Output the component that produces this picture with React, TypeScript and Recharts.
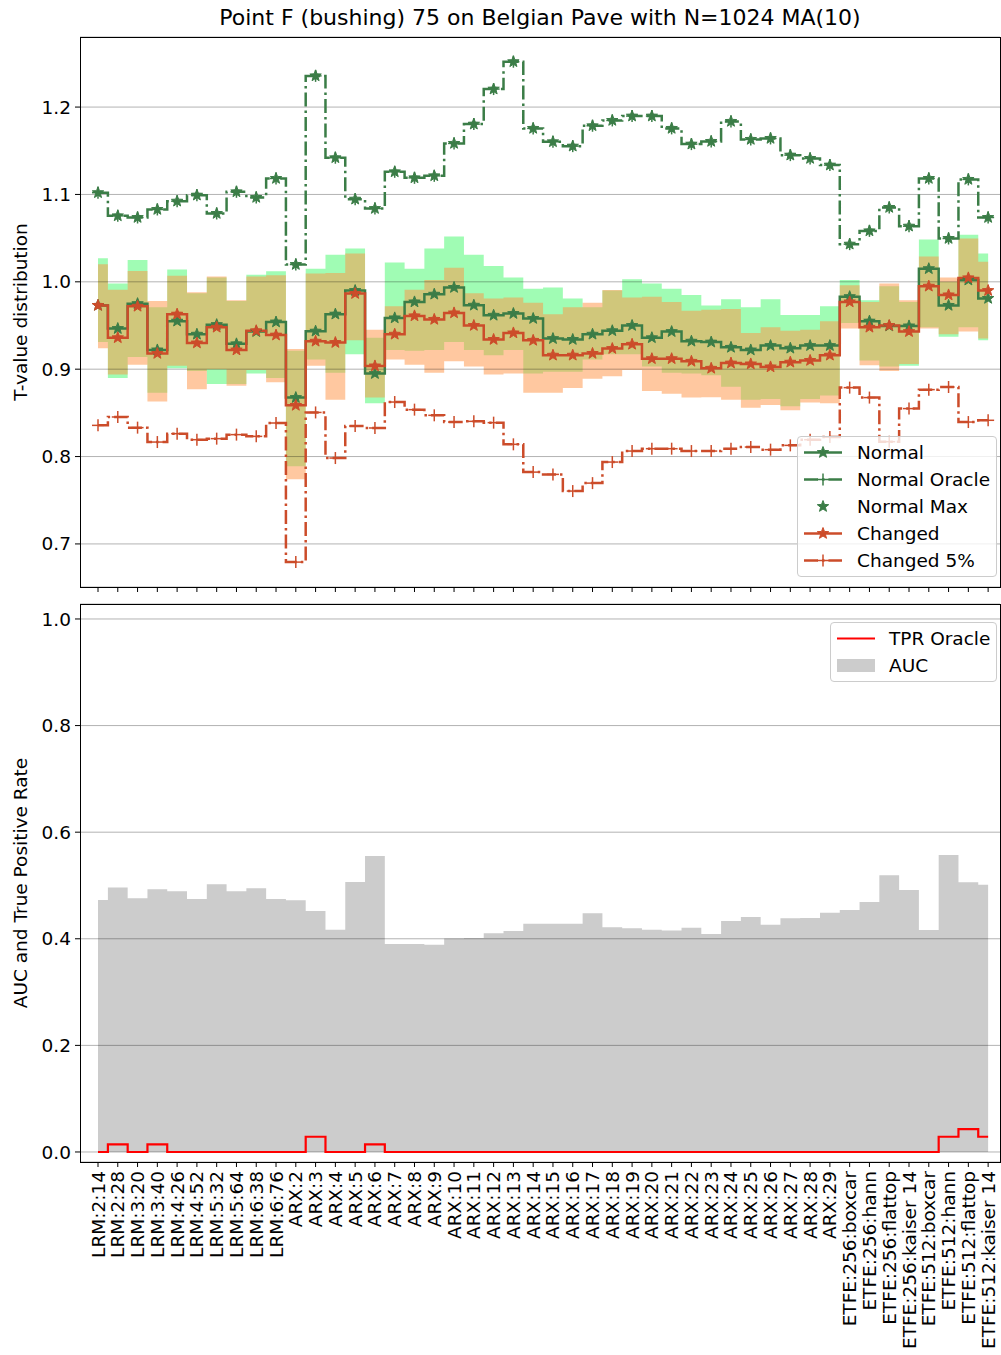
import React from 'react';
import { ComposedChart, Line, Area, XAxis, YAxis, CartesianGrid } from 'recharts';

const categories = [
  'LRM:2:14', 'LRM:2:28', 'LRM:3:20', 'LRM:3:40', 'LRM:4:26', 'LRM:4:52', 'LRM:5:32', 'LRM:5:64', 'LRM:6:38', 'LRM:6:76',
  'ARX:2', 'ARX:3', 'ARX:4', 'ARX:5', 'ARX:6', 'ARX:7', 'ARX:8', 'ARX:9', 'ARX:10', 'ARX:11',
  'ARX:12', 'ARX:13', 'ARX:14', 'ARX:15', 'ARX:16', 'ARX:17', 'ARX:18', 'ARX:19', 'ARX:20', 'ARX:21',
  'ARX:22', 'ARX:23', 'ARX:24', 'ARX:25', 'ARX:26', 'ARX:27', 'ARX:28', 'ARX:29',
  'ETFE:256:boxcar', 'ETFE:256:hann', 'ETFE:256:flattop', 'ETFE:256:kaiser 14',
  'ETFE:512:boxcar', 'ETFE:512:hann', 'ETFE:512:flattop', 'ETFE:512:kaiser 14',
];

const normal = [
  0.973, 0.9465, 0.975, 0.922, 0.955, 0.94, 0.951, 0.929, 0.943, 0.954,
  0.8675, 0.9435, 0.963, 0.99, 0.895, 0.9587, 0.977, 0.9858, 0.9935, 0.9732,
  0.9617, 0.9637, 0.958, 0.935, 0.934, 0.94, 0.944, 0.95, 0.936, 0.943,
  0.932, 0.931, 0.925, 0.922, 0.927, 0.924, 0.927, 0.927, 0.983, 0.955,
  0.9495, 0.9495, 1.015, 0.973, 1.002, 0.981,
];
const normalOracle = [
  1.102, 1.0755, 1.0736, 1.0828, 1.0923, 1.0992, 1.0782, 1.103, 1.0966, 1.1183,
  1.0198, 1.2357, 1.142, 1.0946, 1.0839, 1.1259, 1.119, 1.1213, 1.1584, 1.1805,
  1.2206, 1.2519, 1.1756, 1.1603, 1.1553, 1.1786, 1.1847, 1.1897, 1.1897, 1.1756,
  1.1576, 1.1607, 1.1836, 1.163, 1.1641, 1.145, 1.1412, 1.1336, 1.0431, 1.0583,
  1.0851, 1.0637, 1.1183, 1.0496, 1.1172, 1.0736,
];
// the max stars sit exactly on the oracle points
const normalMax = normalOracle;
const changed = [
  0.973, 0.936, 0.972, 0.918, 0.963, 0.93, 0.948, 0.922, 0.944, 0.939,
  0.8586, 0.932, 0.9305, 0.9866, 0.9037, 0.94, 0.961, 0.957, 0.9644, 0.95,
  0.934, 0.9415, 0.933, 0.916, 0.916, 0.918, 0.9236, 0.9285, 0.912, 0.912,
  0.909, 0.901, 0.907, 0.906, 0.9026, 0.908, 0.91, 0.916, 0.977, 0.948,
  0.95, 0.943, 0.995, 0.985, 1.0045, 0.99,
];
const changed5 = [
  0.8357, 0.8453, 0.8331, 0.8166, 0.8262, 0.8193, 0.8205, 0.8251, 0.8231, 0.8384,
  0.6792, 0.8505, 0.7983, 0.8349, 0.8327, 0.8624, 0.8537, 0.8472, 0.8395, 0.8403,
  0.8388, 0.814, 0.7822, 0.7796, 0.7605, 0.7696, 0.7937, 0.8063, 0.809, 0.809,
  0.8063, 0.8063, 0.809, 0.8109, 0.8079, 0.8128, 0.8193, 0.8223, 0.8789, 0.8675,
  0.817, 0.8549, 0.8766, 0.8796, 0.8395, 0.8415,
];
const normalLow = [
  0.931, 0.89, 0.914, 0.873, 0.901, 0.898, 0.883, 0.883, 0.895, 0.89,
  0.789, 0.911, 0.896, 0.917, 0.861, 0.922, 0.921, 0.922, 0.931, 0.922,
  0.916, 0.922, 0.895, 0.897, 0.897, 0.911, 0.917, 0.917, 0.903, 0.896,
  0.895, 0.893, 0.88, 0.865, 0.866, 0.8575, 0.866, 0.87, 0.953, 0.91,
  0.903, 0.904, 0.948, 0.937, 0.948, 0.933,
];
const normalHigh = [
  1.027, 0.998, 1.025, 0.971, 1.014, 0.987, 1.005, 0.978, 1.008, 1.012,
  0.921, 1.015, 1.031, 1.038, 0.936, 1.022, 1.015, 1.038, 1.052, 1.031,
  1.018, 1.005, 0.992, 0.9935, 0.981, 0.971, 0.99, 1.003, 0.998, 0.992,
  0.985, 0.973, 0.98, 0.971, 0.98, 0.962, 0.962, 0.972, 1.002, 0.979,
  0.995, 0.977, 1.0485, 1.0, 1.054, 1.0325,
];
const changedLow = [
  0.924, 0.894, 0.905, 0.863, 0.904, 0.877, 0.9, 0.881, 0.899, 0.885,
  0.774, 0.904, 0.865, 0.933, 0.8675, 0.911, 0.905, 0.896, 0.909, 0.903,
  0.894, 0.895, 0.873, 0.873, 0.8785, 0.889, 0.892, 0.899, 0.875, 0.872,
  0.8675, 0.868, 0.865, 0.856, 0.859, 0.853, 0.862, 0.861, 0.9465, 0.9045,
  0.898, 0.906, 0.9465, 0.94, 0.943, 0.935,
];
const changedHigh = [
  1.02, 0.991, 1.0125, 0.978, 1.007, 0.988, 1.006, 0.979, 1.006, 1.0075,
  0.923, 1.0095, 1.01, 1.0325, 0.945, 0.972, 0.991, 1.002, 1.016, 0.987,
  0.981, 0.982, 0.976, 0.963, 0.971, 0.976, 0.9905, 0.982, 0.983, 0.977,
  0.967, 0.968, 0.969, 0.9415, 0.948, 0.944, 0.945, 0.955, 0.996, 0.977,
  0.998, 0.979, 1.029, 1.005, 1.0496, 1.023,
];
const auc = [
  0.4728, 0.496, 0.476, 0.4929, 0.489, 0.4747, 0.5022, 0.489, 0.4947, 0.4747,
  0.4722, 0.4522, 0.4171, 0.5066, 0.5553, 0.3902, 0.3902, 0.389, 0.4003, 0.4015,
  0.4103, 0.4146, 0.4284, 0.4283, 0.4283, 0.4478, 0.4215, 0.4196, 0.4171, 0.4153,
  0.4209, 0.409, 0.4334, 0.4409, 0.4265, 0.4384, 0.439, 0.449, 0.454, 0.469,
  0.5191, 0.4916, 0.4165, 0.5572, 0.506, 0.5016,
];
const tprOracle = [
  0, 0.0143, 0, 0.0143, 0, 0, 0, 0, 0, 0,
  0, 0.0286, 0, 0, 0.0143, 0, 0, 0, 0, 0,
  0, 0, 0, 0, 0, 0, 0, 0, 0, 0,
  0, 0, 0, 0, 0, 0, 0, 0, 0, 0,
  0, 0, 0, 0.0286, 0.0429, 0.0286,
];

const topTicks = [0.7, 0.8, 0.9, 1.0, 1.1, 1.2];
const bottomTicks = [0.0, 0.2, 0.4, 0.6, 0.8, 1.0];

const GREEN = '#3b7d47';
const RED = '#cc4c2a';
const FONT = 'DejaVu Sans';
const DASHDOT = '14 4 2.5 4';
const LW = 2.5;

const xTicks = categories.map((_, i) => i);
const xDomain = [-0.91, 45.6];

const topData = categories.map((name, i) => ({
  x: i,
  name,
  normal: normal[i],
  normalOracle: normalOracle[i],
  normalMax: normalMax[i],
  changed: changed[i],
  changed5: changed5[i],
  normalBand: [normalLow[i], normalHigh[i]],
  changedBand: [changedLow[i], changedHigh[i]],
}));

const bottomData = categories.map((name, i) => ({ x: i, name, auc: auc[i], tpr: tprOracle[i] }));

function starPoints(cx: number, cy: number, r = 6, ir = 2.5) {
  const pts: string[] = [];
  for (let k = 0; k < 10; k++) {
    const rad = k % 2 === 0 ? r : ir;
    const a = -Math.PI / 2 + (k * Math.PI) / 5;
    pts.push(`${cx + rad * Math.cos(a)},${cy + rad * Math.sin(a)}`);
  }
  return pts.join(' ');
}

const starDot = (color: string) => (p: any) => (
  <polygon key={`s${p.index}`} points={starPoints(p.cx, p.cy)} fill={color} stroke={color} strokeWidth={1} />
);

const plusDot = (color: string) => (p: any) => (
  <g key={`p${p.index}`} stroke={color} strokeWidth={1.5}>
    <line x1={p.cx - 6} y1={p.cy} x2={p.cx + 6} y2={p.cy} />
    <line x1={p.cx} y1={p.cy - 6} x2={p.cx} y2={p.cy + 6} />
  </g>
);

const RotTick = (props: any) => {
  const { x, y, payload } = props;
  return (
    <text
      transform={`translate(${x},${y}) rotate(-90)`}
      textAnchor="end"
      dominantBaseline="central"
      fontSize={18.5}
      fontFamily={FONT}
      fill="#000"
    >
      {categories[payload.value]}
    </text>
  );
};

type LegendRow = { label: string; color: string; line?: boolean; dash?: string; marker?: 'star' | 'plus'; patch?: boolean };

const topLegend: LegendRow[] = [
  { label: 'Normal', color: GREEN, line: true, marker: 'star' },
  { label: 'Normal Oracle', color: GREEN, line: true, dash: DASHDOT, marker: 'plus' },
  { label: 'Normal Max', color: GREEN, marker: 'star' },
  { label: 'Changed', color: RED, line: true, marker: 'star' },
  { label: 'Changed 5%', color: RED, line: true, dash: DASHDOT, marker: 'plus' },
];

const bottomLegend: LegendRow[] = [
  { label: 'TPR Oracle', color: '#ff0000', line: true },
  { label: 'AUC', color: '#cccccc', patch: true },
];

function LegendBox({ rows, left, top, width, textLeft }: { rows: LegendRow[]; left: number; top: number; width: number; textLeft: number }) {
  return (
    <div
      style={{
        position: 'absolute',
        left,
        top,
        width,
        height: rows.length * 27 + 6,
        boxSizing: 'border-box',
        background: 'rgba(255,255,255,0.8)',
        border: '1px solid #cccccc',
        borderRadius: 4,
        fontFamily: FONT,
        fontSize: 18.5,
      }}
    >
      {rows.map((r, k) => (
        <div key={r.label} style={{ position: 'absolute', left: 0, top: 2 + k * 27, height: 27, width: '100%' }}>
          <svg width={42} height={27} style={{ position: 'absolute', left: 4, top: 0 }}>
            {r.line && <line x1={2} y1={13.5} x2={40} y2={13.5} stroke={r.color} strokeWidth={r.marker ? LW : 2.2} strokeDasharray={r.dash} />}
            {r.patch && <rect x={2} y={7} width={38} height={13} fill={r.color} />}
            {r.marker === 'star' && <polygon points={starPoints(21, 13.5)} fill={r.color} stroke={r.color} />}
            {r.marker === 'plus' && (
              <g stroke={r.color} strokeWidth={1.5}>
                <line x1={15} y1={13.5} x2={27} y2={13.5} />
                <line x1={21} y1={7.5} x2={21} y2={19.5} />
              </g>
            )}
          </svg>
          <span style={{ position: 'absolute', left: textLeft, top: 0, lineHeight: '27px', whiteSpace: 'nowrap' }}>{r.label}</span>
        </div>
      ))}
    </div>
  );
}

const frame = (top: number, height: number): React.CSSProperties => ({
  position: 'absolute',
  left: 80,
  top,
  width: 921,
  height,
  border: '1px solid #000',
  boxSizing: 'border-box',
  pointerEvents: 'none',
});

export default function App() {
  return (
    <div style={{ position: 'absolute', left: 0, top: 0, width: 1001, height: 1355, background: '#fff', fontFamily: FONT }}>
      <div style={{ position: 'absolute', left: 80, width: 920, top: 4, textAlign: 'center', fontSize: 22, lineHeight: '28px' }}>
        Point F (bushing) 75 on Belgian Pave with N=1024 MA(10)
      </div>

      <div style={{ position: 'absolute', left: 0, top: 0 }}>
        <ComposedChart width={1001} height={600} data={topData} margin={{ top: 37, right: 1, left: 0, bottom: 3 }}>
          <Area dataKey="normalBand" type="step" fill="#41f969" fillOpacity={0.5} stroke="none" isAnimationActive={false} />
          <Area dataKey="changedBand" type="step" fill="#ff9141" fillOpacity={0.5} stroke="none" isAnimationActive={false} />
          <CartesianGrid vertical={false} stroke="#000" strokeOpacity={0.3} strokeWidth={1} zIndex={150} />
          <XAxis
            dataKey="x"
            type="number"
            domain={xDomain}
            ticks={xTicks}
            interval={0}
            allowDataOverflow
            height={10}
            tickSize={5}
            tickFormatter={() => ''}
            axisLine={false}
            tickLine={{ stroke: '#000' }}
          />
          <YAxis
            type="number"
            domain={[0.6507, 1.2802]}
            ticks={topTicks}
            allowDataOverflow
            width={80}
            tickSize={5}
            tickMargin={4}
            axisLine={false}
            tickLine={{ stroke: '#000' }}
            tickFormatter={(v: number) => v.toFixed(1)}
            tick={{ fontSize: 18.5, fill: '#000', fontFamily: FONT }}
          />
          <Line dataKey="normal" type="step" stroke={GREEN} strokeWidth={LW} dot={starDot(GREEN)} isAnimationActive={false} />
          <Line dataKey="normalOracle" type="step" stroke={GREEN} strokeWidth={LW} strokeDasharray={DASHDOT} dot={plusDot(GREEN)} isAnimationActive={false} />
          <Line dataKey="normalMax" stroke="none" dot={starDot(GREEN)} isAnimationActive={false} />
          <Line dataKey="changed" type="step" stroke={RED} strokeWidth={LW} dot={starDot(RED)} isAnimationActive={false} />
          <Line dataKey="changed5" type="step" stroke={RED} strokeWidth={LW} strokeDasharray={DASHDOT} dot={plusDot(RED)} isAnimationActive={false} />
        </ComposedChart>
      </div>
      <div style={frame(37, 551)} />

      <div style={{ position: 'absolute', left: 0, top: 600 }}>
        <ComposedChart width={1001} height={755} data={bottomData} margin={{ top: 4, right: 1, left: 0, bottom: 0 }}>
          <Area dataKey="auc" type="step" fill="#cccccc" fillOpacity={1} stroke="none" isAnimationActive={false} />
          <CartesianGrid vertical={false} stroke="#000" strokeOpacity={0.3} strokeWidth={1} zIndex={150} />
          <XAxis
            dataKey="x"
            type="number"
            domain={xDomain}
            ticks={xTicks}
            interval={0}
            allowDataOverflow
            height={193}
            tickSize={5}
            tickMargin={4}
            axisLine={false}
            tickLine={{ stroke: '#000' }}
            tick={<RotTick />}
          />
          <YAxis
            type="number"
            domain={[-0.0188, 1.0281]}
            ticks={bottomTicks}
            allowDataOverflow
            width={80}
            tickSize={5}
            tickMargin={4}
            axisLine={false}
            tickLine={{ stroke: '#000' }}
            tickFormatter={(v: number) => v.toFixed(1)}
            tick={{ fontSize: 18.5, fill: '#000', fontFamily: FONT }}
          />
          <Line dataKey="tpr" type="step" stroke="#ff0000" strokeWidth={2.2} dot={false} isAnimationActive={false} />
        </ComposedChart>
      </div>
      <div style={frame(604, 559)} />

      <div style={{ position: 'absolute', left: 20, top: 312, transform: 'translate(-50%,-50%) rotate(-90deg)', fontSize: 18.5, whiteSpace: 'nowrap' }}>
        T-value distribution
      </div>
      <div style={{ position: 'absolute', left: 20, top: 883, transform: 'translate(-50%,-50%) rotate(-90deg)', fontSize: 18.5, whiteSpace: 'nowrap' }}>
        AUC and True Positive Rate
      </div>

      <LegendBox rows={topLegend} left={797} top={436} width={200} textLeft={59} />
      <LegendBox rows={bottomLegend} left={830} top={622} width={167} textLeft={58} />
    </div>
  );
}
